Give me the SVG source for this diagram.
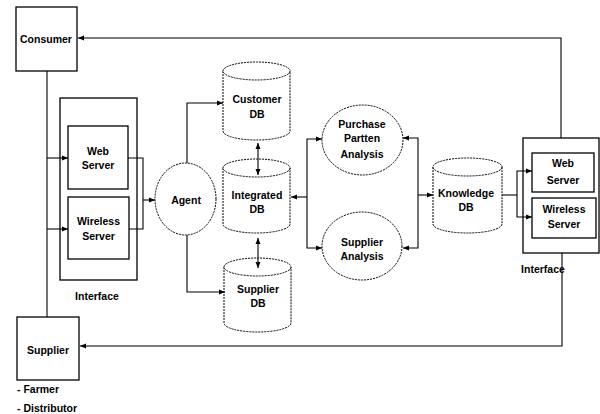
<svg xmlns="http://www.w3.org/2000/svg" width="600" height="414" viewBox="0 0 600 414">
<style>
.box{fill:#fff;stroke:#000;stroke-width:1.3}
.dot{fill:#fff;stroke:#000;stroke-width:1;stroke-dasharray:2 1}
.ln{fill:none;stroke:#000;stroke-width:1.1}
text{font-family:"Liberation Sans",Arial,sans-serif;font-weight:bold;font-size:10.5px;fill:#000;text-anchor:middle}
.l{text-anchor:start}
</style>
<defs>
<marker id="ah" viewBox="0 0 6 6" refX="6" refY="3" markerWidth="6" markerHeight="6" markerUnits="userSpaceOnUse" orient="auto-start-reverse">
<path d="M0,0.5 L6,3 L0,5.5 Z" fill="#000"/>
</marker>
</defs>
<rect width="600" height="414" fill="#fff"/>
<g id="consumer">
<rect class="box" x="16" y="7" width="61" height="64"/>
<text x="46" y="43">Consumer</text>
</g>
<g id="supplier">
<rect class="box" x="17" y="317" width="62" height="63"/>
<text x="48" y="354">Supplier</text>
<text class="l" x="17" y="393">- Farmer</text>
<text class="l" x="17" y="412">- Distributor</text>
</g>
<g id="interface-left">
<rect class="box" x="60" y="98" width="77" height="182"/>
<text x="97" y="300">Interface</text>
</g>
<g id="web-server-left">
<rect class="box" x="68" y="126" width="60" height="63"/>
<text x="98" y="155">Web</text>
<text x="98" y="169">Server</text>
</g>
<g id="wireless-server-left">
<rect class="box" x="68" y="197" width="61" height="62"/>
<text x="98.5" y="225">Wireless</text>
<text x="98.5" y="240">Server</text>
</g>
<g id="agent">
<ellipse class="dot" cx="185.5" cy="199" rx="30.5" ry="36"/>
<text x="186" y="204">Agent</text>
</g>
<g id="customer-db">
<path class="dot" d="M223 71 L223 131 A33.5 9 0 0 0 290 131 L290 71"/>
<ellipse class="dot" cx="256.5" cy="71" rx="33.5" ry="9"/>
<text x="257" y="103">Customer</text>
<text x="257" y="118">DB</text>
</g>
<g id="integrated-db">
<path class="dot" d="M223 168 L223 224 A33.5 9 0 0 0 290 224 L290 168"/>
<ellipse class="dot" cx="256.5" cy="168" rx="33.5" ry="9"/>
<text x="257" y="199">Integrated</text>
<text x="257" y="213">DB</text>
</g>
<g id="supplier-db">
<path class="dot" d="M224 267 L224 323 A33.5 9 0 0 0 291 323 L291 267"/>
<ellipse class="dot" cx="257.5" cy="267" rx="33.5" ry="9"/>
<text x="258" y="293">Supplier</text>
<text x="258" y="307">DB</text>
</g>
<g id="purchase-pattern-analysis">
<ellipse class="dot" cx="362.5" cy="140" rx="40.5" ry="35"/>
<text x="362" y="128">Purchase</text>
<text x="362" y="142">Partten</text>
<text x="362" y="158">Analysis</text>
</g>
<g id="supplier-analysis">
<ellipse class="dot" cx="362" cy="246" rx="40" ry="34"/>
<text x="362" y="246">Supplier</text>
<text x="362" y="260">Analysis</text>
</g>
<g id="knowledge-db">
<path class="dot" d="M433 167 L433 224 A34.5 9 0 0 0 502 224 L502 167"/>
<ellipse class="dot" cx="467.5" cy="167" rx="34.5" ry="9"/>
<text x="466" y="197">Knowledge</text>
<text x="466" y="211">DB</text>
</g>
<g id="interface-right">
<rect class="box" x="523" y="138" width="76" height="115"/>
<text x="543" y="273">Interface</text>
</g>
<g id="web-server-right">
<rect class="box" x="532" y="153" width="62" height="39"/>
<text x="563" y="167">Web</text>
<text x="563" y="184">Server</text>
</g>
<g id="wireless-server-right">
<rect class="box" x="532" y="198" width="64" height="40"/>
<text x="564" y="213">Wireless</text>
<text x="564" y="228">Server</text>
</g>
<g id="connectors">
<path class="ln" d="M561 138 L561 38 L78 38" marker-end="url(#ah)"/>
<path class="ln" d="M47 71 L47 317"/>
<path class="ln" d="M47 158 L68 158" marker-end="url(#ah)"/>
<path class="ln" d="M47 229 L68 229" marker-end="url(#ah)"/>
<path class="ln" d="M128 158 L143 158 L143 229 L129 229"/>
<path class="ln" d="M143 200 L155 200" marker-end="url(#ah)"/>
<path class="ln" d="M187 163 L187 103 L223 103" marker-end="url(#ah)"/>
<path class="ln" d="M187 235 L187 292 L225 292" marker-end="url(#ah)"/>
<path class="ln" d="M258 143 L258 175" marker-start="url(#ah)" marker-end="url(#ah)"/>
<path class="ln" d="M258 238 L258 268" marker-start="url(#ah)" marker-end="url(#ah)"/>
<path class="ln" d="M307 197 L291 197" marker-end="url(#ah)"/>
<path class="ln" d="M322 139 L307 139 L307 248 L322 248" marker-start="url(#ah)" marker-end="url(#ah)"/>
<path class="ln" d="M403 138 L418 138 L418 248 L403 248" marker-start="url(#ah)" marker-end="url(#ah)"/>
<path class="ln" d="M418 195 L433 195" marker-end="url(#ah)"/>
<path class="ln" d="M502 195 L517 195"/>
<path class="ln" d="M532 171 L517 171 L517 217 L532 217" marker-start="url(#ah)" marker-end="url(#ah)"/>
<path class="ln" d="M562 253 L562 346 L80 346" marker-end="url(#ah)"/>
</g>
</svg>
